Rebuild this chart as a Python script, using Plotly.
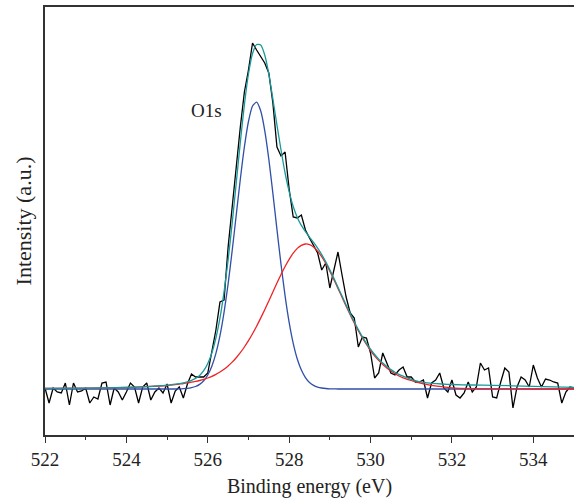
import plotly.graph_objects as go

# Measured O1s spectrum (0.1 eV steps from 522.0 eV), arbitrary units above baseline
INTENSITY = [
    1, -14, 1, -3, -4, 6, -16, 6, -3, -2,        # 522.0-522.9
    1, -14, -8, -10, 6, 7, -16, 1, -3, -11,      # 523.0-523.9
    -3, 6, 2, -14, 2, 6, -11, -3, 1, -4,         # 524.0-524.9
    5, -14, -2, 2, -9, 5, 15, 12, 12, 12,        # 525.0-525.9
    16, 39, 59, 87, 89, 142, 186, 222, 262, 297,  # 526.0-526.9
    319, 346, 339, 332, 326, 316, 286, 242, 233, 237,  # 527.0-527.9
    200, 172, 171, 174, 159, 151, 144, 136, 119, 126,  # 528.0-528.9
    101, 119, 137, 114, 92, 76, 71, 42, 52, 51,  # 529.0-529.9
    36, 11, 16, 36, 26, 16, 14, 19, 22, 12,      # 530.0-530.9
    12, 7, 7, 9, -9, 6, 9, 16, 1, -3,            # 531.0-531.9
    9, -6, -9, -4, 7, -3, 2, 26, 19, 21,         # 532.0-532.9
    -8, -9, 7, 21, 17, -19, 2, 12, 9, 2,         # 533.0-533.9
    24, 11, 2, 10, 9, 7, 6, -14, -3, 2,          # 534.0-534.9
    1,                                           # 535.0
]
E_START = 522.0
E_STEP = 0.1

# Fitted curves
E_FIT = [
    522.0, 523.0, 524.0, 524.5,
    525.0, 525.1, 525.2, 525.3, 525.4, 525.5, 525.6, 525.7, 525.8, 525.9,
    526.0, 526.1, 526.2, 526.3, 526.4, 526.5, 526.6, 526.7, 526.8, 526.9,
    527.0, 527.1, 527.2, 527.3, 527.4, 527.5, 527.6, 527.7, 527.8, 527.9,
    528.0, 528.1, 528.2, 528.3, 528.4, 528.5, 528.6, 528.7, 528.8, 528.9,
    529.0, 529.1, 529.2, 529.3, 529.4, 529.5, 529.6, 529.7, 529.8, 529.9,
    530.0, 530.1, 530.2, 530.3, 530.4, 530.5, 530.6, 530.7, 530.8, 530.9,
    531.0, 531.1, 531.2, 531.3, 531.4, 531.5,
    531.75, 532.0, 532.5, 533.0, 534.0, 535.0,
]
FIT_BLUE = [
    0, 0, 0, 0,
    0, 0, 0, 0.1, 0.3, 0.6, 1.3, 2.5, 4.6, 8.2,
    14.0, 22.8, 35.7, 53.4, 76.7, 105.2, 138.3, 174.1, 209.8, 242.1,
    267.5, 283.0, 286.8, 278.2, 258.4, 229.8, 195.7, 159.6, 124.6, 93.2,
    66.7, 45.7, 30.0, 18.9, 11.4, 6.5, 3.6, 1.9, 1.0, 0.5,
    0.2, 0.1, 0, 0, 0, 0, 0, 0, 0, 0,
    0, 0, 0, 0, 0, 0, 0, 0, 0, 0,
    0, 0, 0, 0, 0, 0,
    0, 0, 0, 0, 0, 0,
]
FIT_RED = [
    0.5, 0.8, 1.5, 2.3,
    3.5, 4.0, 4.4, 4.9, 5.4, 6.2, 6.8, 7.6, 8.5, 9.6,
    11.0, 12.6, 14.6, 17.0, 19.8, 23.1, 26.9, 31.3, 36.3, 42.0,
    48.3, 55.3, 62.8, 70.9, 79.3, 88.1, 97.0, 105.9, 114.5, 122.5,
    129.7, 135.8, 140.6, 143.7, 145.0, 144.4, 142.0, 137.9, 132.3, 125.5,
    117.8, 109.4, 100.6, 91.7, 82.8, 74.2, 66.0, 58.2, 51.0, 44.5,
    38.5, 33.2, 28.6, 24.5, 21.0, 18.0, 15.3, 13.0, 11.1, 9.7,
    8.5, 7.3, 6.2, 5.2, 4.4, 3.7,
    2.3, 1.2, 0.4, 0.1, 0, 0,
]
FIT_TOTAL = [
    0.7, 0.9, 1.5, 2.3,
    3.8, 4.3, 4.8, 5.4, 6.1, 7.3, 8.6, 10.6, 13.6, 18.3,
    25.5, 36.0, 51.0, 71.1, 97.2, 129.0, 165.9, 206.1, 246.8, 284.3,
    315.0, 335.5, 344.5, 344.0, 334.0, 315.0, 290.0, 264.0, 239.0, 216.0,
    197.4, 182.5, 171.6, 163.6, 157.4, 151.9, 146.6, 140.8, 134.4, 127.1,
    119.1, 110.6, 101.8, 92.9, 84.0, 75.4, 67.2, 59.4, 52.2, 45.7,
    39.8, 34.5, 29.9, 25.9, 22.4, 19.4, 16.8, 14.6, 12.8, 11.1,
    9.6, 8.4, 7.3, 6.6, 6.1, 5.7,
    5.0, 4.5, 4.0, 3.7, 2.7, 1.7,
]

X_TICKS = [522, 524, 526, 528, 530, 532, 534]
X_TITLE = "Binding energy (eV)"
Y_TITLE = "Intensity (a.u.)"
PEAK_LABEL = "O1s"

E = [round(E_START + E_STEP * i, 1) for i in range(len(INTENSITY))]

SERIF = "Liberation Serif, Times New Roman, serif"

fig = go.Figure()
fig.add_trace(go.Scatter(x=E, y=INTENSITY, mode="lines",
                         line=dict(color="#000000", width=1.3)))
fig.add_trace(go.Scatter(x=E_FIT, y=FIT_BLUE, mode="lines",
                         line=dict(color="#2f4fa8", width=1.3, shape="spline", smoothing=0.6)))
fig.add_trace(go.Scatter(x=E_FIT, y=FIT_RED, mode="lines",
                         line=dict(color="#ee2326", width=1.3, shape="spline", smoothing=0.6)))
fig.add_trace(go.Scatter(x=E_FIT, y=FIT_TOTAL, mode="lines",
                         line=dict(color="#17999a", width=1.3, shape="spline", smoothing=0.6)))

fig.add_annotation(x=525.98, y=279, xref="x", yref="y", text=PEAK_LABEL,
                   showarrow=False, font=dict(family=SERIF, size=19, color="#222"))

fig.update_layout(
    width=574, height=504,
    margin=dict(l=45, r=0, t=7, b=69, autoexpand=False),
    paper_bgcolor="white", plot_bgcolor="white",
    showlegend=False,
    xaxis=dict(
        range=[522, 535], tickvals=X_TICKS, ticktext=[str(v) for v in X_TICKS],
        ticks="outside", ticklen=6, tickwidth=1.2, tickcolor="#333",
        showline=True, linecolor="#333", linewidth=1.5, mirror=True,
        showgrid=False, zeroline=False, automargin=False,
        minor=dict(dtick=1, tick0=522, ticks="outside", ticklen=3, tickwidth=1.2,
                   tickcolor="#333", showgrid=False),
        tickfont=dict(family=SERIF, size=19, color="#222"),
        title=dict(text=X_TITLE, font=dict(family=SERIF, size=20, color="#222"), standoff=10),
    ),
    yaxis=dict(
        range=[-46, 382], showticklabels=False, ticks="",
        showline=True, linecolor="#333", linewidth=1.5, mirror=True,
        showgrid=False, zeroline=False,
        title=dict(text=Y_TITLE, font=dict(family=SERIF, size=22, color="#222"), standoff=6),
        automargin=False,
    ),
)

# Remove the default page margin so the figure sits at the window origin.
fig.write_html("out.html", config={"displayModeBar": False},
               post_script="document.body.style.margin='0';")
